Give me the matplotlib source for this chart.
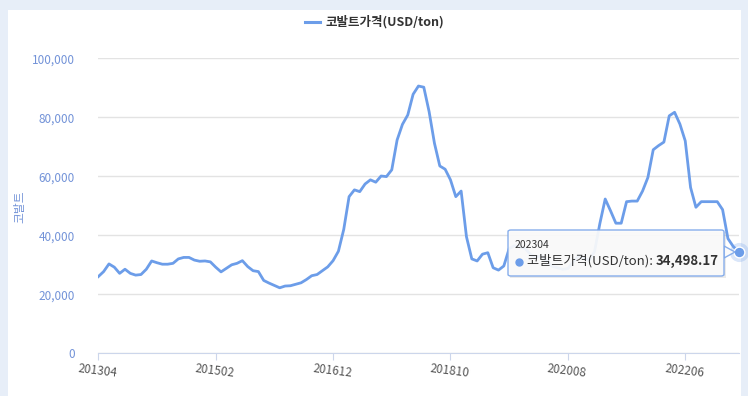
import matplotlib
matplotlib.use("Agg")
import matplotlib.pyplot as plt
from matplotlib.patches import Rectangle, FancyBboxPatch, Polygon

plt.rcParams['font.family'] = ['Noto Sans CJK KR', 'DejaVu Sans']

# ----------------------------
# DATA (monthly, 201304 ~ 202304)
# ----------------------------
start_year, start_month = 2013, 4
prices = [
    26000, 27700, 30300, 29200, 27100, 28500, 27100, 26500, 26700, 28500,
    31300, 30700, 30200, 30200, 30500, 32000, 32500, 32500, 31600, 31200,
    31300, 31000, 29200, 27600, 28800, 30000, 30500, 31400, 29400, 28000,
    27700, 24700, 23800, 23000, 22200, 22800, 22900, 23400, 23900, 25000,
    26300, 26700, 28000, 29300, 31400, 34600, 42000, 53100, 55400, 54800,
    57400, 58800, 58000, 60100, 59900, 62200, 72300, 77600, 80800, 87800,
    90600, 90200, 81900, 71200, 63500, 62400, 58800, 53100, 55000, 39500,
    32000, 31300, 33600, 34100, 29000, 28200, 29600, 35500, 36500, 36000,
    35500, 33500, 32500, 33000, 31500, 29500, 29000, 28500, 28700, 31000,
    33000, 32500, 31500, 34500, 44000, 52300, 48300, 44100, 44100, 51400,
    51600, 51600, 55000, 59600, 69000, 70400, 71600, 80500, 81700, 77700,
    72000, 56200, 49500, 51400, 51400, 51400, 51400, 48700, 38900, 36200,
    34498.17,
]
series_name = "코발트가격(USD/ton)"
y_label = "코발트"
y_ticks = [0, 20000, 40000, 60000, 80000, 100000]
x_tick_step = 22

months = []
y, m = start_year, start_month
for _ in prices:
    months.append(f"{y}{m:02d}")
    m += 1
    if m > 12:
        m = 1
        y += 1
idx = list(range(len(prices)))

# ----------------------------
# COLORS
# ----------------------------
line_color = "#6c9de9"
label_blue = "#7393d8"
grid_color = "#e3e3e3"
axis_color = "#ccd6eb"

W, H = 748, 396
fig = plt.figure(figsize=(W / 100, H / 100), dpi=100)
fig.patch.set_facecolor("#e7eef8")
fig.add_artist(Rectangle((8 / W, 0), (741 - 8) / W, (H - 10) / H,
                         transform=fig.transFigure, facecolor="white",
                         edgecolor="none", zorder=0))

left, right = 98.3, 738.6
top, bottom = 58.3, 353.3
ax = fig.add_axes([left / W, 1 - bottom / H, (right - left) / W, (bottom - top) / H])
ax.set_facecolor("none")

ax.plot(idx, prices, color=line_color, lw=2.0, solid_joinstyle="round", zorder=3)

# last point highlight
ax.scatter([idx[-1]], [prices[-1]], s=190, color=line_color, alpha=0.25,
           clip_on=False, zorder=4, linewidths=0)
ax.scatter([idx[-1]], [prices[-1]], s=60, color=line_color, clip_on=False,
           zorder=5, edgecolors="white", linewidths=1.0)

ax.set_xlim(0, len(prices) - 1)
ax.set_ylim(0, 100000)
ax.set_yticks(y_ticks)
ax.set_yticklabels([f"{v:,}" for v in y_ticks], color=label_blue, fontsize=8.5)
xt = idx[::x_tick_step]
ax.set_xticks(xt)
ax.set_xticklabels([months[i] for i in xt], color="#555555", fontsize=8.5,
                   rotation=-7, rotation_mode="anchor", ha="center")
ax.tick_params(axis="y", length=0, pad=17)
ax.tick_params(axis="x", length=5, color=axis_color, pad=3)

ax.grid(axis="y", color=grid_color, lw=1)
ax.set_axisbelow(True)
for s in ["top", "right", "left"]:
    ax.spines[s].set_visible(False)
ax.spines["bottom"].set_color(axis_color)

fig.text(20 / W, 1 - 207 / H, y_label, rotation=90, color=label_blue,
         fontsize=8.5, ha="center", va="center")

# legend
fig.add_artist(plt.Line2D([305 / W, 320 / W], [1 - 22 / H, 1 - 22 / H],
                          color=line_color, lw=2.2, transform=fig.transFigure))
fig.text(325 / W, 1 - 22 / H, series_name, fontsize=9, color="#333333",
         ha="left", va="center", fontweight="bold")

# tooltip
tx0, tx1, ty0, ty1 = 508, 724, 230, 276
fig.add_artist(FancyBboxPatch((tx0 / W + 2 / W, 1 - ty1 / H - 2 / H), (tx1 - tx0) / W,
                              (ty1 - ty0) / H, boxstyle="square,pad=0",
                              transform=fig.transFigure, facecolor="#000000",
                              alpha=0.08, edgecolor="none", zorder=6))
fig.add_artist(Polygon([(tx1 / W, 1 - 246 / H), (735 / W, 1 - 252 / H), (tx1 / W, 1 - 258 / H)],
                       closed=True, transform=fig.transFigure, facecolor="#fbfbfb",
                       edgecolor="#7ea8ea", lw=1, alpha=0.93, zorder=7))
fig.add_artist(FancyBboxPatch((tx0 / W, 1 - ty1 / H), (tx1 - tx0) / W, (ty1 - ty0) / H,
                              boxstyle="round,pad=0,rounding_size=0.004",
                              transform=fig.transFigure, facecolor="#fbfbfb",
                              alpha=0.93, edgecolor="#7ea8ea", lw=1, zorder=7))
fig.text(515 / W, 1 - 245 / H, months[-1], fontsize=7.5, color="#333333",
         ha="left", va="center", zorder=8)
fig.add_artist(plt.Line2D([519 / W], [1 - 262 / H], marker="o", markersize=5,
                          color=line_color, transform=fig.transFigure, zorder=8))
t1 = fig.text(527 / W, 1 - 261 / H, f"{series_name}: ", fontsize=9.5, color="#333333",
              ha="left", va="center", zorder=8)
fig.canvas.draw()
bb = t1.get_window_extent(renderer=fig.canvas.get_renderer())
fig.text(bb.x1 / W, 1 - 261 / H, f"{prices[-1]:,.2f}", fontsize=9.5, color="#333333",
         ha="left", va="center", fontweight="bold", zorder=8)

fig.savefig("out.png", dpi=100, facecolor=fig.get_facecolor())
